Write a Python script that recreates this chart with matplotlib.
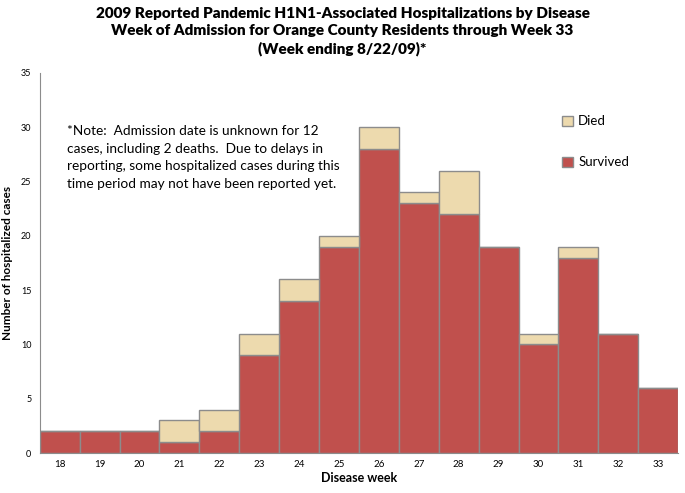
import matplotlib.pyplot as plt
import numpy as np

plt.rcParams['font.family'] = ['Lato', 'DejaVu Sans']

weeks = ['18', '19', '20', '21', '22', '23', '24', '25', '26', '27', '28', '29', '30', '31', '32', '33']
survived = [2, 2, 2, 1, 2, 9, 14, 19, 28, 23, 22, 19, 10, 18, 11, 6]
died = [0, 0, 0, 2, 2, 2, 2, 1, 2, 1, 4, 0, 1, 1, 0, 0]

fig = plt.figure(figsize=(6.85, 4.93), dpi=100)
ax = fig.add_axes([0.058, 0.081, 0.932, 0.771])

x = np.arange(len(weeks))
ax.bar(x, survived, width=1.0, color='#C0504D', edgecolor='#8C8C8C', linewidth=1.0, label='Survived')
ax.bar(x, died, width=1.0, bottom=survived, color='#EDDAAE', edgecolor='#8C8C8C', linewidth=1.0, label='Died')

ax.set_xlim(-0.5, len(weeks) - 0.5)
ax.set_ylim(0, 35)
ax.set_xticks(x)
ax.set_xticklabels(weeks, fontsize=7)
ax.set_yticks(range(0, 36, 5))
ax.tick_params(axis='y', labelsize=6.5, length=0, pad=6)
ax.tick_params(axis='x', length=0, pad=5)
for s in ['top', 'right']:
    ax.spines[s].set_visible(False)
for s in ['left', 'bottom']:
    ax.spines[s].set_color('#8C8C8C')

ax.set_xlabel('Disease week', fontsize=9, fontweight='bold', labelpad=2)
ax.set_ylabel('Number of hospitalized cases', fontsize=8.5, fontweight='bold')
ax.yaxis.set_label_coords(-0.042, 0.5)

fig.suptitle('2009 Reported Pandemic H1N1-Associated Hospitalizations by Disease\n'
             'Week of Admission for Orange County Residents through Week 33\n'
             '(Week ending 8/22/09)*', fontsize=11, fontweight='heavy', y=0.985, linespacing=1.35)

ax.text(0.042, 0.862, '*Note:  Admission date is unknown for 12\n'
        'cases, including 2 deaths.  Due to delays in\n'
        'reporting, some hospitalized cases during this\n'
        'time period may not have been reported yet.',
        transform=ax.transAxes, fontsize=9.8, va='top', ha='left', linespacing=1.55)

handles, labels = ax.get_legend_handles_labels()
ax.legend(handles[::-1], labels[::-1], loc='upper left', bbox_to_anchor=(0.8, 0.92),
          frameon=False, fontsize=9.5, labelspacing=2.2, handlelength=0.8, handleheight=0.8,
          handletextpad=0.4)

fig.savefig('out.png', dpi=100)
